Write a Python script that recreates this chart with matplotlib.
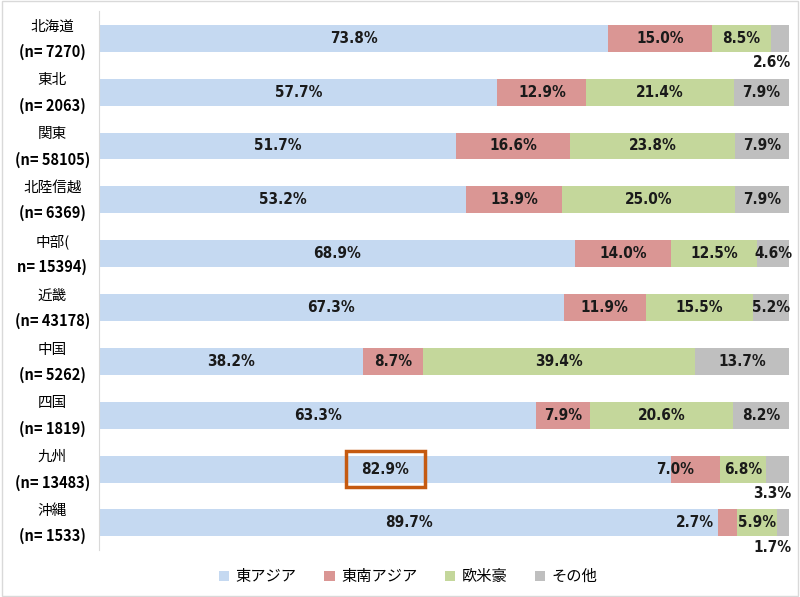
import matplotlib.pyplot as plt
from matplotlib.patches import Rectangle

plt.rcParams['font.family'] = ['Noto Sans CJK JP', 'DejaVu Sans']

regions = ['北海道', '東北', '関東', '北陸信越', '中部(', '近畿', '中国', '四国', '九州', '沖縄']
counts = ['(n= 7270)', '(n= 2063)', '(n= 58105)', '(n= 6369)', 'n= 15394)',
          '(n= 43178)', '(n= 5262)', '(n= 1819)', '(n= 13483)', '(n= 1533)']
east_asia = [73.8, 57.7, 51.7, 53.2, 68.9, 67.3, 38.2, 63.3, 82.9, 89.7]
se_asia = [15.0, 12.9, 16.6, 13.9, 14.0, 11.9, 8.7, 7.9, 7.0, 2.7]
western = [8.5, 21.4, 23.8, 25.0, 12.5, 15.5, 39.4, 20.6, 6.8, 5.9]
other = [2.6, 7.9, 7.9, 7.9, 4.6, 5.2, 13.7, 8.2, 3.3, 1.7]

series = [('東アジア', east_asia, '#C5D9F1'),
          ('東南アジア', se_asia, '#DA9694'),
          ('欧米豪', western, '#C4D79B'),
          ('その他', other, '#BFBFBF')]

fig = plt.figure(figsize=(8, 5.97), dpi=100)
ax = fig.add_axes([0.124, 0.079, 0.8625, 0.902])

lab_font = dict(family='DejaVu Sans', fontstretch='condensed', fontsize=11,
                fontweight='bold', color='#1a1a1a')

y = list(range(len(regions)))
left = [0.0] * len(regions)
for si, (name, vals, col) in enumerate(series):
    fr = [v / 100 for v in vals]
    ax.barh(y, fr, left=left, height=0.5, color=col, label=name, zorder=2)
    for i, (l, w) in enumerate(zip(left, fr)):
        txt = f'{vals[i]:.1f}%'
        if si == 3 and vals[i] < 4:
            ax.text(1.003, i + 0.45, txt, ha='right', va='center', **lab_font)
        elif si == 1 and vals[i] < 3:
            ax.text(l - 0.006, i, txt, ha='right', va='center', **lab_font)
        elif si == 1 and regions[i] == '九州':
            ax.text(l + 0.005, i, txt, ha='center', va='center', **lab_font)
        else:
            ax.text(l + w / 2, i, txt, ha='center', va='center', **lab_font)
        if si == 0 and regions[i] == '九州':
            # highlight box around the Kyushu East Asia label
            ax.add_patch(Rectangle((l + w / 2 - 0.057, i - 0.335), 0.114, 0.67,
                                   fill=False, ec='#C55A11', lw=2.5, zorder=4))
    left = [a + b for a, b in zip(left, fr)]

ax.set_xlim(0, 1)
ax.set_ylim(9.5, -0.5)
ax.set_xticks([])
ax.set_yticks([])
for s in ['top', 'right', 'bottom']:
    ax.spines[s].set_visible(False)
ax.spines['left'].set_color('#D9D9D9')

for i, (r, c) in enumerate(zip(regions, counts)):
    ax.text(-0.068, i - 0.22, r, ha='center', va='center', fontsize=10.5,
            transform=ax.get_yaxis_transform())
    ax.text(-0.068, i + 0.25, c, ha='center', va='center', fontsize=10.5,
            fontweight='bold', transform=ax.get_yaxis_transform())

fig.legend(loc='center', bbox_to_anchor=(0.51, 0.034), ncol=4, frameon=False,
           fontsize=11, handlelength=0.7, handleheight=0.7, columnspacing=1.8,
           handletextpad=0.4)

fig.patches.append(Rectangle((0.002, 0.002), 0.996, 0.996, transform=fig.transFigure,
                             fill=False, ec='#D9D9D9', lw=1))

fig.savefig('out.png', dpi=100)
